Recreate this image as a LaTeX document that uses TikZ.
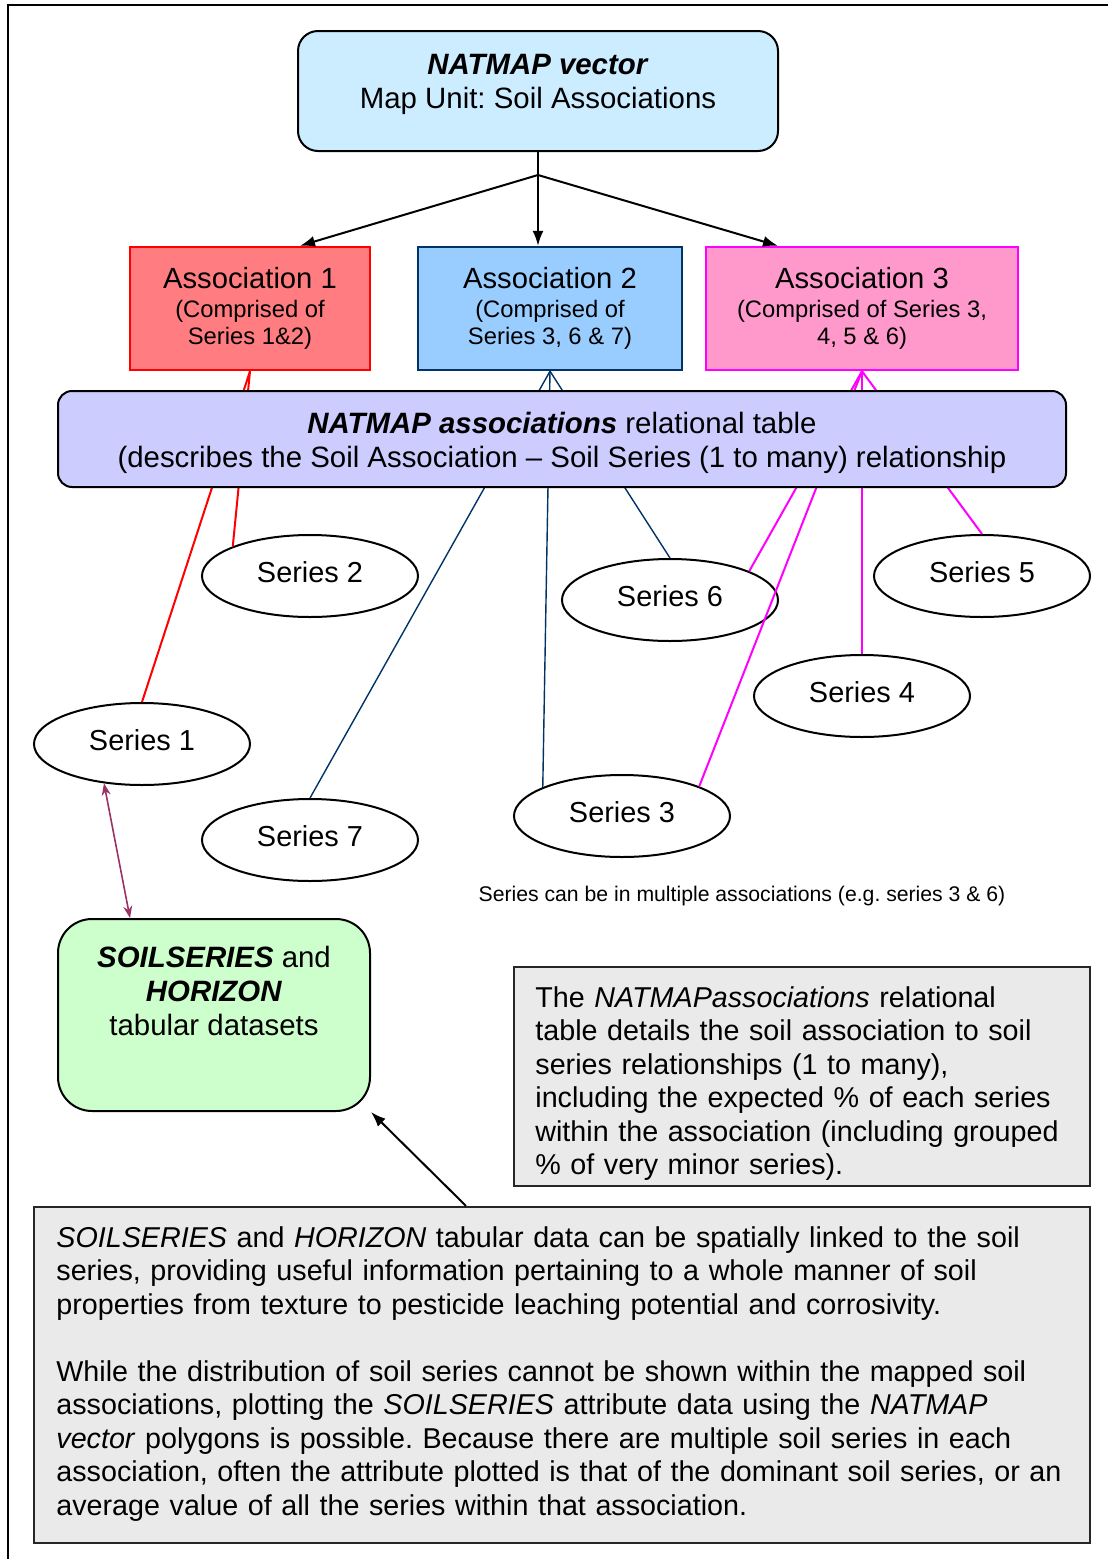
\documentclass[tikz,border=0pt]{standalone}
\usepackage{fontspec}
\setmainfont{Liberation Sans}
\usetikzlibrary{arrows.meta,shapes.geometric}
\frenchspacing

\definecolor{vecfill}{HTML}{CCECFF}
\definecolor{aonefill}{HTML}{FF7C80}
\definecolor{atwofill}{HTML}{99CCFF}
\definecolor{atwoline}{HTML}{003366}
\definecolor{athreefill}{HTML}{FF99CC}
\definecolor{athreeline}{HTML}{FF00FF}
\definecolor{relfill}{HTML}{CCCCFF}
\definecolor{soilfill}{HTML}{CCFFCC}
\definecolor{notefill}{HTML}{EAEAEA}
\definecolor{plum}{HTML}{993366}

\tikzset{
	base/.style={font=\fontsize{14.7}{17}\selectfont},
	notetext/.style={font=\fontsize{14.35}{16.75}\selectfont},
	roundbox/.style={draw, line width=1pt, rounded corners=10pt, inner sep=0},
	assoc/.style={rectangle, line width=1.2pt, minimum height=61.5pt, inner sep=0, align=center, font=\fontsize{11.9}{13.5}\selectfont},
	series/.style={ellipse, draw, line width=1pt, minimum width=108pt, minimum height=41pt, inner sep=0, text depth=4pt, font=\fontsize{14.45}{17}\selectfont},
	notebox/.style={draw=black!85, fill=notefill, line width=1.1pt, inner sep=0},
	arrowblk/.style={line width=1pt, -{Latex[length=7.5pt,width=5.5pt]}},
	redlink/.style={draw=red, line width=1pt},
	bluelink/.style={draw=atwoline, line width=0.7pt},
	pinklink/.style={draw=athreeline, line width=1pt},
}

\begin{document}
\begin{tikzpicture}[x=0.5pt,y=-0.5pt]
	\useasboundingbox (0,0) rectangle (1108,1559);
	%frame
	\draw[line width=1.2pt] (8,1559) -- (8,5) -- (1108,5);
	
	%map unit
	\node[roundbox, fill=vecfill, minimum width=240pt, minimum height=60pt] (vec) at (538,91) {};
	\node[base, align=center, anchor=north, inner sep=0] (vectxt) at (538,54) {\textbf{\textit{NATMAP vector}}\\Map Unit: Soil Associations};
	
	%associations
	\node[assoc, fill=aonefill, draw=red, minimum width=120pt] (a1) at (250,308.5) {{\fontsize{14.6}{17}\selectfont Association 1}\\[1pt](Comprised of\\Series 1\&2)};
	\node[assoc, fill=atwofill, draw=atwoline, minimum width=132pt] (a2) at (550,308.5) {{\fontsize{14.6}{17}\selectfont Association 2}\\[1pt](Comprised of\\Series 3, 6 \& 7)};
	\node[assoc, fill=athreefill, draw=athreeline, minimum width=156pt] (a3) at (862,308.5) {{\fontsize{14.6}{17}\selectfont Association 3}\\[1pt](Comprised of Series 3,\\4, 5 \& 6)};
	
	\draw[line width=1pt] (vec.south) -- (538,175) coordinate (fork);
	\draw[arrowblk] (fork) -- ([xshift=25pt]a1.north);
	\draw[arrowblk] (fork) -- (fork |- a2.north);
	\draw[arrowblk] (fork) -- ([xshift=-42pt]a3.north);
	
	%series
	\foreach \n/\x/\y in {1/142/744, 2/310/576, 3/622/816, 4/862/696, 5/982/576, 6/670/600, 7/310/840}{
		\node[series] (s\n) at (\x,\y) {Series \n};
	}
	
	%links (under the table)
	\foreach \s in {s1.north, s2.159}{
		\draw[redlink] (a1.south) -- (\s);
	}
	\foreach \s in {s7.north, s3.160, s6.north}{
		\draw[bluelink] (a2.south) -- (\s);
	}
	\foreach \s in {s6.20, s3.21, s4.north, s5.north}{
		\draw[pinklink] (a3.south) -- (\s);
	}
	
	\node[roundbox, fill=relfill, minimum width=504pt, minimum height=48pt, rounded corners=7pt] (rel) at (562,439) {};
	\node[base, align=center, inner sep=0] (reltxt) at (562,443) {\textbf{\textit{NATMAP associations}} relational table\\(describes the Soil Association -- Soil Series (1 to many) relationship};
	
	\node[font=\fontsize{10.6}{12}\selectfont, inner sep=0] (multi) at (742,896) {Series can be in multiple associations (e.g. series 3 \& 6)};
	
	%datasets
	\node[roundbox, fill=soilfill, rounded corners=17pt, minimum width=156pt, minimum height=96pt] (soil) at (214,1015) {};
	\node[base, align=center, anchor=north, inner sep=0] (soiltxt) at (214,946) {\textbf{\textit{SOILSERIES}} and\\\textbf{\textit{HORIZON}}\\tabular datasets};
	\draw[draw=plum, line width=0.8pt, {Stealth[length=6pt,width=4.5pt]}-{Stealth[length=6pt,width=4.5pt]}] (s1.226) -- ([xshift=-42pt]soil.north);
	
	%notes
	\node[notebox, minimum width=288pt, minimum height=109.5pt] (note1) at (802,1076.5) {};
	\node[notetext, anchor=north west, text width=277pt, align=left, inner sep=0] (note1txt) at (535,986) {The \textit{NATMAPassociations} relational\\table details the soil association to soil\\series relationships (1 to many),\\including the expected \% of each series\\within the association (including grouped\\\% of very minor series).};
	
	\node[notebox, minimum width=528pt, minimum height=168pt] (note2) at (562,1375) {};
	\node[notetext, anchor=north west, text width=516pt, align=left, inner sep=0] (note2txt) at (56,1226) {\textit{SOILSERIES} and \textit{HORIZON} tabular data can be spatially linked to the soil\\series, providing useful information pertaining to a whole manner of soil\\properties from texture to pesticide leaching potential and corrosivity.\\[16.75pt]While the distribution of soil series cannot be shown within the mapped soil\\associations, plotting the \textit{SOILSERIES} attribute data using the \textit{NATMAP}\\\textit{vector} polygons is possible. Because there are multiple soil series in each\\association, often the attribute plotted is that of the dominant soil series, or an\\average value of all the series within that association.};
	\draw[arrowblk] ([xshift=-48pt]note2.north) -- (soil.south east);
\end{tikzpicture}
\end{document}
